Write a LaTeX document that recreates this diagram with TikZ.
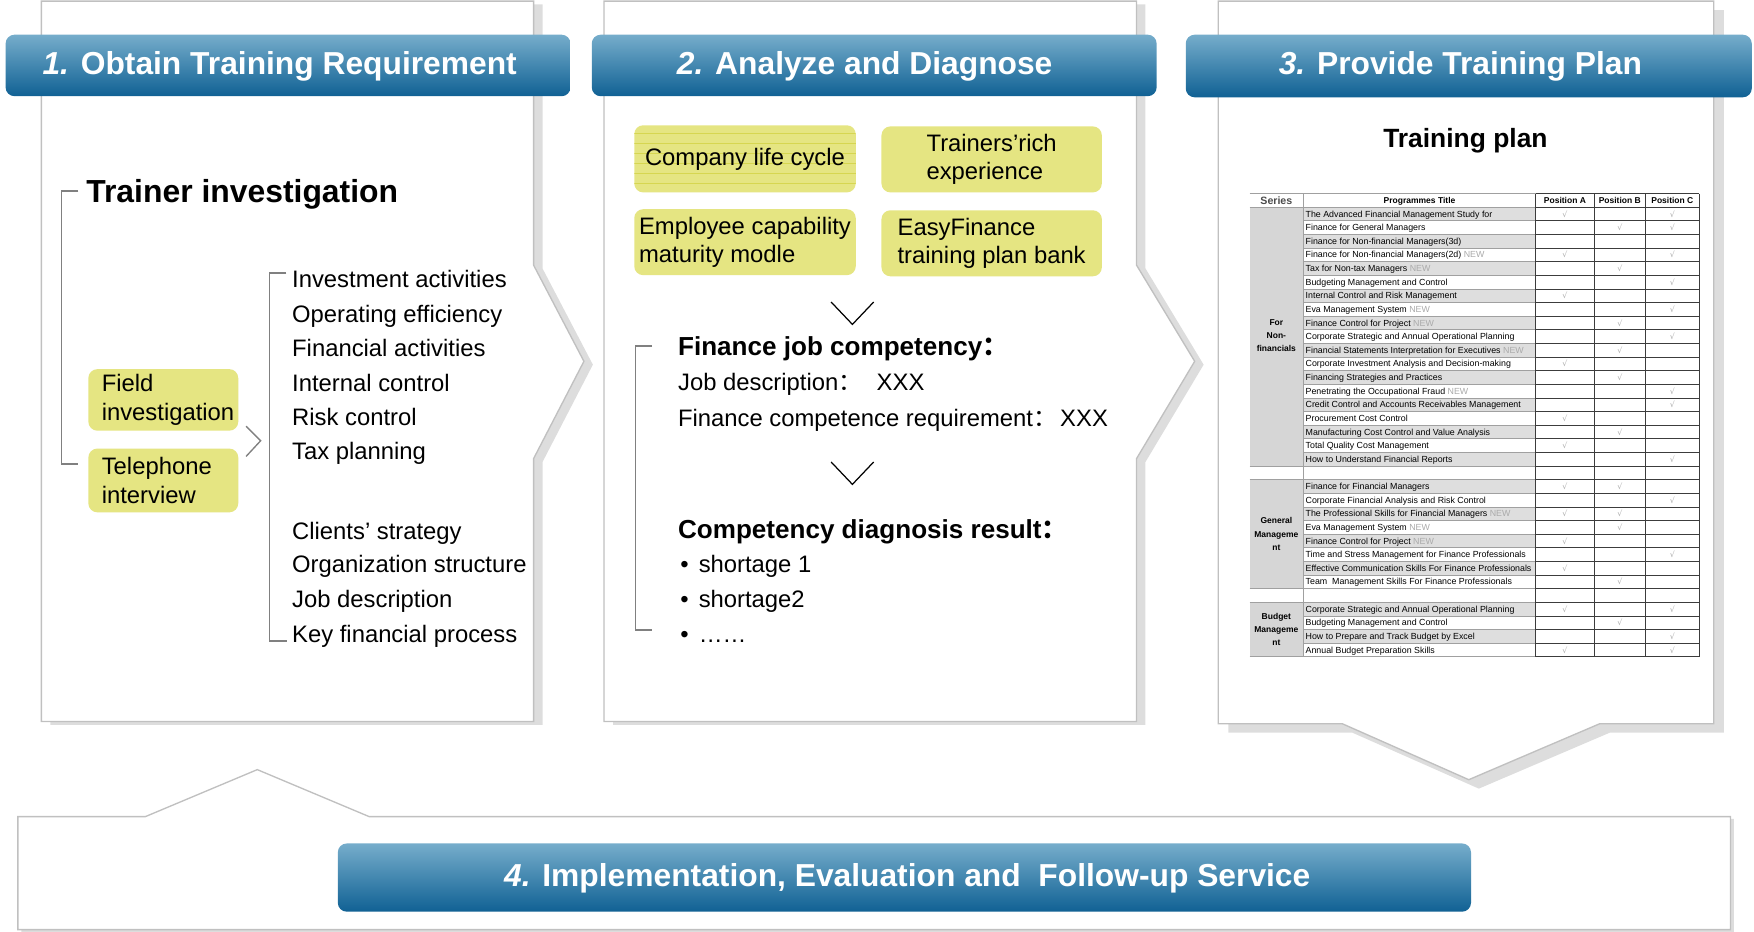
\documentclass[tikz,border=0pt]{standalone}
\usepackage{fontspec}
\setmainfont{Liberation Sans}
\newfontfamily\cjkfont{Noto Sans CJK SC}
\newfontfamily\symfont{DejaVu Sans}
\definecolor{hdtop}{RGB}{118,173,203}
\definecolor{hdbot}{RGB}{16,97,148}
\definecolor{ybox}{RGB}{229,229,130}
\definecolor{ylin}{RGB}{214,214,80}
\definecolor{pborder}{RGB}{192,192,192}
\definecolor{pshadow}{RGB}{221,221,221}
\definecolor{brk}{RGB}{128,128,128}
\definecolor{newgray}{RGB}{170,170,170}
\definecolor{tgray}{RGB}{222,222,222}
\definecolor{sgray}{RGB}{214,214,214}
\definecolor{tline}{RGB}{160,160,160}
\definecolor{tdarkc}{RGB}{60,60,60}
\newcommand\fwc{{\cjkfont ：}}
\newcommand\nwt{\textcolor{newgray}{NEW}}
\tikzset{
  hdr/.style={top color=hdtop, bottom color=hdbot, rounded corners=8pt, text=white,
    font=\fontsize{28.4}{34}\selectfont\bfseries, inner sep=0, text height=20.3pt, text depth=5pt},
  body/.style={anchor=base west, inner sep=0, font=\fontsize{21.3}{25.5}\selectfont},
  bodyb/.style={anchor=base west, inner sep=0, font=\fontsize{23.3}{28}\selectfont\bfseries},
  ybx/.style={fill=ybox, rounded corners=8pt, inner sep=0, align=left, font=\fontsize{21.3}{25.5}\selectfont},
  panel/.style={fill=white, draw=pborder, line width=1.2},
  shadA/.style={preaction={fill=pshadow, transform canvas={shift={(8pt,-3pt)}}}},
  shadB/.style={preaction={fill=pshadow, transform canvas={shift={(9pt,-8pt)}}}},
  shadC/.style={preaction={fill=pshadow, transform canvas={shift={(3pt,-2pt)}}}},
  brkt/.style={draw=brk, line width=1.5},
  chevg/.style={draw=brk, line width=1.2},
  chevk/.style={draw=black, line width=1.1},
  tbl/.style={anchor=base west, inner sep=0, font=\fontsize{7.9}{9}\selectfont},
  tblh/.style={anchor=base, inner sep=0, font=\fontsize{7.6}{9}\selectfont\bfseries},
  serl/.style={inner sep=0, align=center, font=\fontsize{7.6}{12}\selectfont\bfseries},
  chk/.style={inner sep=0, text=newgray, font=\symfont\fontsize{7}{8}\selectfont},
  tgrid/.style={draw=tline, line width=0.5},
  tdark/.style={draw=tdarkc, line width=0.7},
  ylines/.style={draw=ylin, line width=0.6}
}
\begin{document}
\begin{tikzpicture}[x=1pt,y=-1pt]
\useasboundingbox (0,0) rectangle (1568,833);
% ---------- panels ----------
\draw[panel, shadA] (37,1) -- (477,1) -- (477,237) -- (522,323) -- (477,410) -- (477,645) -- (37,645) -- cycle;
\draw[panel, shadA] (540,1) -- (1016,1) -- (1016,237) -- (1068,323) -- (1016,410) -- (1016,645) -- (540,645) -- cycle;
\draw[panel, shadB] (1089,1) -- (1532,1) -- (1532,647) -- (1430,647) -- (1313,697) -- (1200,647) -- (1089,647) -- cycle;
\draw[panel, shadC] (16,730) -- (130,730) -- (230,688) -- (330,730) -- (1547,730) -- (1547,831) -- (16,831) -- cycle;
% ---------- headers ----------
\node[hdr, minimum width=505, minimum height=55] (h1) at (257.5,58.5) {\textit{1.} Obtain Training Requirement\kern15pt};
\node[hdr, minimum width=505, minimum height=55] (h2) at (781.5,58.5) {\textit{2.} Analyze and Diagnose\kern17pt};
\node[hdr, minimum width=506, minimum height=56] (h3) at (1313,59) {\textit{3.} Provide Training Plan\kern15pt};
\node[hdr, minimum width=1013, minimum height=61] (h4) at (808.5,784.5) {\kern5pt\textit{4.} Implementation, Evaluation and~~Follow-up Service};
% ---------- panel 1 ----------
\node[anchor=base west, inner sep=0, font=\fontsize{28.5}{34}\selectfont\bfseries] (ti) at (77,181) {Trainer investigation};
\node[ybx, minimum width=134, minimum height=55, text width=110] (fi) at (146,357.5) {Field\\investigation};
\node[ybx, minimum width=134, minimum height=57, text width=110] (tp) at (146,429.5) {Telephone\\interview};
\draw[brkt] (70,171) -- (55,171) -- (55,415) -- (70,415);
\draw[chevg] (220,381) -- (233,394) -- (220,408);
\foreach \i/\yy/\t in {1/257/Investment activities, 2/288/Operating efficiency, 3/319/Financial activities, 4/350/Internal control, 5/380/Risk control, 6/411/Tax planning, 7/482/Clients’ strategy, 8/512/Organization structure, 9/543/Job description, 10/574/Key financial process}
  \node[body] (L\i) at (261,\yy) {\t};
\draw[brkt] (256,244) -- (241,244) -- (241,573) -- (257,573);
% ---------- panel 2 ----------
\node[ybx, minimum width=198, minimum height=60,
  path picture={\foreach \k in {7,16,25,34,43,52} \draw[ylines] ([yshift=-\k pt]path picture bounding box.north west) -- ([yshift=-\k pt]path picture bounding box.north east);}] (clc) at (666,142) {Company life cycle};
\node[ybx, minimum width=197, minimum height=59] (tre) at (886.5,142.5) {Trainers’rich\\experience};
\node[ybx, minimum width=198, minimum height=59] (ecm) at (666,216.5) {Employee capability\\maturity modle};
\node[ybx, minimum width=197, minimum height=59] (efb) at (886.5,217.5) {EasyFinance\\training plan bank};
\draw[chevk] (743,270) -- (762,290) -- (781,270);
\draw[chevk] (743,413) -- (762,433) -- (781,413);
\draw[brkt] (583,309) -- (568,309) -- (568,563) -- (583,563);
\node[bodyb] (fjc) at (606,318) {Finance job competency\fwc};
\node[body] (jd) at (606,349) {Job description\fwc\hspace{13pt}XXX};
\node[body] (fcr) at (606,381) {Finance competence requirement\fwc\hspace{3pt}XXX};
\node[bodyb] (cdr) at (606,481) {Competency diagnosis result\fwc};
\node[body] (s1) at (608,512) {•\hspace{9pt}shortage 1};
\node[body] (s2) at (608,543) {•\hspace{9pt}shortage2};
\node[body] (s3) at (608,574) {•\hspace{9pt}……};
% ---------- panel 3 ----------
\node[anchor=base, inner sep=0, font=\fontsize{23.6}{28}\selectfont\bfseries] (tp3) at (1310,132) {Training plan};
% table backgrounds
\fill[sgray] (1117,{173+12.18}) rectangle (1165,{173+20*12.18});
\fill[sgray] (1117,{173+21*12.18}) rectangle (1165,{173+29*12.18});
\fill[sgray] (1117,{173+30*12.18}) rectangle (1165,{173+34*12.18});
\foreach \r/\t/\a/\b/\c/\g in {
 1/The Advanced Financial Management Study for/1/0/1/1,
 2/Finance for General Managers/0/1/1/0,
 3/Finance for Non-financial Managers(3d)/0/0/0/1,
 4/Finance for Non-financial Managers(2d) \nwt/1/0/1/0,
 5/Tax for Non-tax Managers \nwt/0/1/0/1,
 6/Budgeting Management and Control/0/0/1/0,
 7/Internal Control and Risk Management/1/0/0/1,
 8/Eva Management System \nwt/0/0/1/0,
 9/Finance Control for Project \nwt/0/1/0/1,
 10/Corporate Strategic and Annual Operational Planning/0/0/1/0,
 11/Financial Statements Interpretation for Executives \nwt/0/1/0/1,
 12/Corporate Investment Analysis and Decision-making/1/0/0/0,
 13/Financing Strategies and Practices/0/1/0/1,
 14/Penetrating the Occupational Fraud \nwt/0/0/1/0,
 15/Credit Control and Accounts Receivables Management/0/0/1/1,
 16/Procurement Cost Control/1/0/0/0,
 17/Manufacturing Cost Control and Value Analysis/0/1/0/1,
 18/Total Quality Cost Management/1/0/0/0,
 19/How to Understand Financial Reports/0/0/1/1,
 21/Finance for Financial Managers/1/1/0/1,
 22/Corporate Financial Analysis and Risk Control/0/0/1/0,
 23/The Professional Skills for Financial Managers \nwt/1/1/0/1,
 24/Eva Management System \nwt/0/1/0/0,
 25/Finance Control for Project \nwt/1/0/0/1,
 26/Time and Stress Management for Finance Professionals/0/0/1/0,
 27/Effective Communication Skills For Finance Professionals/1/0/0/1,
 28/Team~~Management Skills For Finance Professionals/0/1/0/0,
 30/Corporate Strategic and Annual Operational Planning/1/0/1/1,
 31/Budgeting Management and Control/0/1/0/0,
 32/How to Prepare and Track Budget by Excel/0/0/1/1,
 33/Annual Budget Preparation Skills/1/0/1/0}{
  \ifnum\g=1 \fill[tgray] (1165,{173+\r*12.18}) rectangle (1373,{173+(\r+1)*12.18}); \fi
  \node[tbl] (row\r) at (1167,{173+(\r+0.5)*12.18+2.8}) {\t};
  \ifnum\a=1 \node[chk] (ca\r) at (1399,{173+(\r+0.5)*12.18}) {√}; \fi
  \ifnum\b=1 \node[chk] (cb\r) at (1448,{173+(\r+0.5)*12.18}) {√}; \fi
  \ifnum\c=1 \node[chk] (cc\r) at (1495,{173+(\r+0.5)*12.18}) {√}; \fi
}
\foreach \k in {0,...,34} {
  \draw[tgrid] (1165,{173+\k*12.18}) -- (1373,{173+\k*12.18});
  \draw[tdark] (1373,{173+\k*12.18}) -- (1519,{173+\k*12.18});
}
\foreach \k in {0,1,20,21,29,30,34}
  \draw[tgrid] (1117,{173+\k*12.18}) -- (1165,{173+\k*12.18});
\draw[tgrid] (1165,173) -- (1165,{173+34*12.18});
\foreach \xx in {1373,1425,1471,1519}
  \draw[tdark] (\xx,173) -- (\xx,{173+34*12.18});
% header row
\node[inner sep=0, anchor=base, text=black!70, font=\fontsize{9.5}{10}\selectfont\bfseries] (hs) at (1141,182.8) {Series};
\node[tblh] (hp) at (1269,182.3) {Programmes Title};
\node[tblh] (ha) at (1399,182.3) {Position A};
\node[tblh] (hb) at (1448,182.3) {Position B};
\node[tblh] (hc) at (1495,182.3) {Position C};
% series labels
\node[serl] (g1) at (1141,300) {For\\Non-\\financials};
\node[serl] (g2) at (1141,477.5) {General\\Manageme\\nt};
\node[serl] (g3) at (1141,562.7) {Budget\\Manageme\\nt};
\end{tikzpicture}
\end{document}
